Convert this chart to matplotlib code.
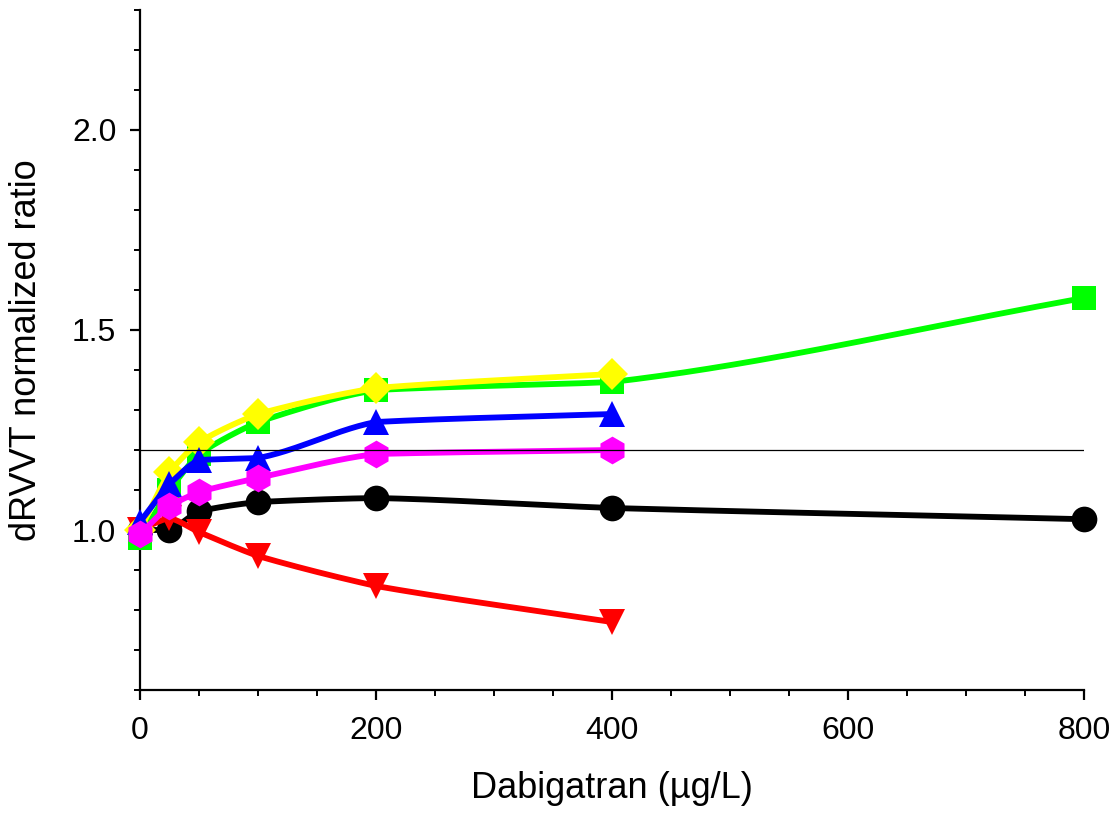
import numpy as np
import matplotlib
matplotlib.use("Agg")
import matplotlib.pyplot as plt
from matplotlib.ticker import MultipleLocator

plt.rcParams['font.family'] = ['Liberation Sans', 'DejaVu Sans']

# Dabigatran concentrations (µg/L)
conc_full = [0, 25, 50, 100, 200, 400, 800]
conc_short = [0, 25, 50, 100, 200, 400]

# dRVVT normalized ratios per reagent series
black_vals = [1.00, 1.00, 1.047, 1.07, 1.08, 1.055, 1.027]
red_vals = [1.00, 1.03, 0.995, 0.935, 0.86, 0.77]
green_vals = [0.98, 1.10, 1.19, 1.27, 1.35, 1.37, 1.58]
yellow_vals = [1.00, 1.145, 1.22, 1.29, 1.355, 1.39]
blue_vals = [1.02, 1.115, 1.175, 1.18, 1.27, 1.29]
magenta_vals = [0.99, 1.06, 1.095, 1.13, 1.19, 1.20]

cutoff = 1.2


def smooth_curve(x, y, n=60, tension=0.5):
    """Monotone cubic curve through the points, relaxed toward straight segments."""
    x = np.asarray(x, float)
    y = np.asarray(y, float)
    h = np.diff(x)
    d = np.diff(y) / h
    m = np.zeros_like(y)
    m[0], m[-1] = d[0], d[-1]
    for i in range(1, len(x) - 1):
        if d[i - 1] * d[i] > 0:
            w1 = 2 * h[i] + h[i - 1]
            w2 = h[i] + 2 * h[i - 1]
            m[i] = (w1 + w2) / (w1 / d[i - 1] + w2 / d[i])
    xs, ys = [], []
    for i in range(len(x) - 1):
        t = np.linspace(0, 1, n, endpoint=(i == len(x) - 2))
        h00 = 2 * t**3 - 3 * t**2 + 1
        h10 = t**3 - 2 * t**2 + t
        h01 = -2 * t**3 + 3 * t**2
        h11 = t**3 - t**2
        cub = h00 * y[i] + h10 * h[i] * m[i] + h01 * y[i + 1] + h11 * h[i] * m[i + 1]
        lin = y[i] + t * (y[i + 1] - y[i])
        xs.append(x[i] + t * h[i])
        ys.append(lin + tension * (cub - lin))
    return np.concatenate(xs), np.concatenate(ys)


fig = plt.figure(figsize=(11.17, 8.24), dpi=100)
ax = fig.add_axes([0.1253, 0.1626, 0.8452, 0.8253])

series = [
    (conc_full, black_vals, 'black', 'o', 18.5),
    (conc_short, red_vals, '#ff0000', 'v', 18.5),
    (conc_full, green_vals, '#00ff00', 's', 17),
    (conc_short, yellow_vals, '#ffff00', 'D', 16),
    (conc_short, blue_vals, '#0000ff', '^', 18.5),
    (conc_short, magenta_vals, '#ff00ff', 'h', 20),
]

for z, (xv, yv, col, mk, ms) in enumerate(series):
    sx, sy = smooth_curve(xv, yv)
    ax.plot(sx, sy, color=col, lw=4.2, zorder=2 + 2 * z, clip_on=False,
            solid_capstyle='round')
    ax.plot(xv, yv, linestyle='none', marker=mk, markersize=ms, color=col,
            markeredgewidth=0, zorder=3 + 2 * z, clip_on=False)

ax.plot([0, 800], [cutoff, cutoff], color='black', lw=0.9, zorder=20)

ax.set_xlim(0, 800)
ax.set_ylim(0.6, 2.3)

ax.xaxis.set_major_locator(MultipleLocator(200))
ax.xaxis.set_minor_locator(MultipleLocator(50))
ax.set_yticks([1.0, 1.5, 2.0])
ax.set_yticklabels(['1.0', '1.5', '2.0'])
ax.yaxis.set_minor_locator(MultipleLocator(0.1))

for side in ('top', 'right'):
    ax.spines[side].set_visible(False)
for side in ('left', 'bottom'):
    ax.spines[side].set_linewidth(1.6)

ax.tick_params(axis='x', which='major', direction='out', length=7,
               width=1.6, labelsize=23, pad=12)
ax.tick_params(axis='y', which='major', direction='out', length=7,
               width=1.6, labelsize=23, pad=10)
ax.tick_params(axis='both', which='minor', direction='out', length=4, width=1.4)

ax.set_xlabel('Dabigatran (µg/L)', fontsize=26, labelpad=18)
ax.set_ylabel('dRVVT normalized ratio', fontsize=26, labelpad=20)

fig.savefig('out.png', dpi=100)
